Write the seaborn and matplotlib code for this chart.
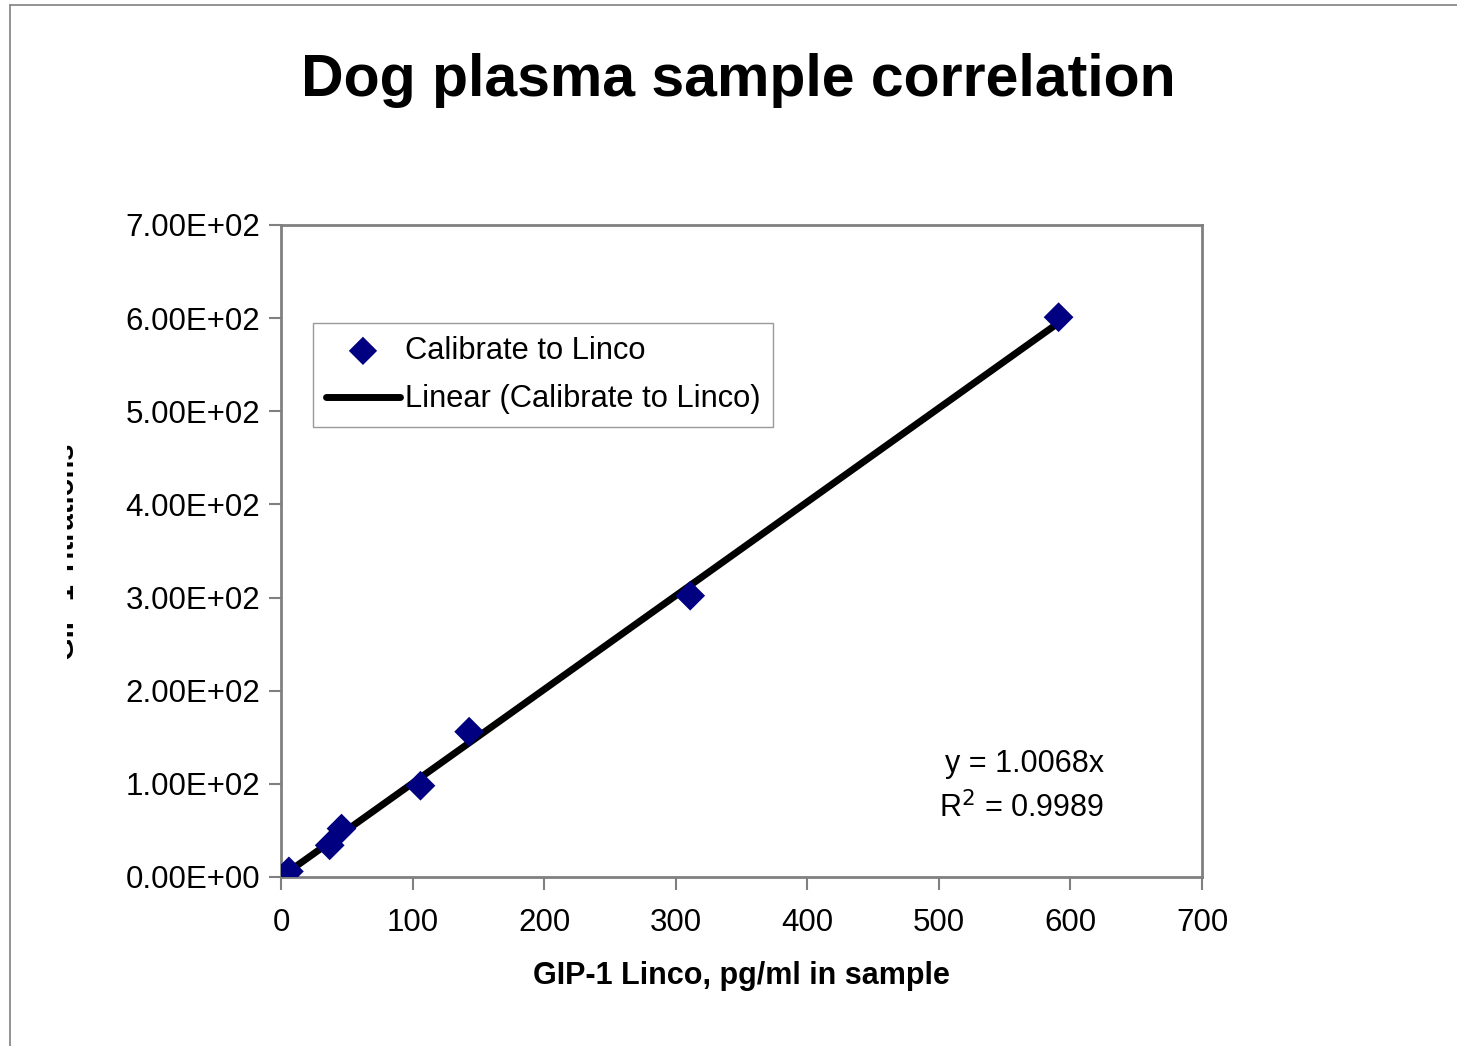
import numpy as np
import pandas as pd
import matplotlib
matplotlib.use("Agg")
import matplotlib.pyplot as plt
import seaborn as sns
from matplotlib.patches import Rectangle
from matplotlib.lines import Line2D
from matplotlib.ticker import FuncFormatter, MultipleLocator

# ---- data ----
linco_x = [6, 37, 46, 106, 143, 311, 591]
other_y = [6, 34, 52, 98, 156, 302, 601]
slope = 1.0068
r2 = 0.9989
title = "Dog plasma sample correlation"
xlabel = "GIP-1 Linco, pg/ml in sample"
ylabel = "GIP-1 Titrations"
series_name = "Calibrate to Linco"
trend_name = "Linear (Calibrate to Linco)"

W, H = 1457, 1046
sns.set_style("white")
plt.rcParams['font.family'] = ['Liberation Sans', 'DejaVu Sans']
plt.rcParams['text.color'] = 'black'
plt.rcParams['axes.labelcolor'] = 'black'
plt.rcParams['xtick.color'] = 'black'
plt.rcParams['ytick.color'] = 'black'

fig = plt.figure(figsize=(W / 100, H / 100), dpi=100)
ax = fig.add_axes([281 / W, 1 - 877 / H, (1202 - 281) / W, (877 - 225) / H])

df = pd.DataFrame({"x": linco_x, "y": other_y})
xs = np.array([min(linco_x), max(linco_x)], dtype=float)
trend = pd.DataFrame({"x": xs, "y": slope * xs})

sns.lineplot(data=trend, x="x", y="y", ax=ax, color="black", linewidth=5,
             label=trend_name, zorder=2)
sns.scatterplot(data=df, x="x", y="y", ax=ax, marker="D", s=230, color="#000080",
                edgecolor="none", label=series_name, zorder=3)

ax.set_xlim(0, 700)
ax.set_ylim(0, 700)
ax.xaxis.set_major_locator(MultipleLocator(100))
ax.yaxis.set_major_locator(MultipleLocator(100))
ax.yaxis.set_major_formatter(FuncFormatter(lambda v, p: f"{v:.2E}"))
ax.tick_params(axis="both", which="major", labelsize=22.5, length=9, width=1.5,
               color="#808080", labelcolor="black", direction="out", left=True, bottom=True)
ax.tick_params(axis="y", pad=6)
ax.tick_params(axis="x", pad=13)
for s in ax.spines.values():
    s.set_color("#808080")
    s.set_linewidth(2)
ax.set_xlabel(xlabel, fontsize=22, fontweight="bold", labelpad=17, color="black")
ax.set_ylabel("")

# legend
handles, labels = ax.get_legend_handles_labels()
order = [labels.index(series_name), labels.index(trend_name)]
leg = ax.legend([handles[i] for i in order], [labels[i] for i in order],
                loc="upper left", bbox_to_anchor=((313 - 281) / 921, (877 - 323) / 652),
                fontsize=22.2, frameon=True, fancybox=False, borderaxespad=0,
                handlelength=2.4, handletextpad=0.15, borderpad=0.42, labelspacing=0.6,
                markerscale=0.95)
leg.get_frame().set_edgecolor("#808080")
leg.get_frame().set_linewidth(1)
for txt in leg.get_texts():
    txt.set_color("black")

# regression text
fig.text(1104 / W, 1 - 764 / H, f"y = {slope:.4f}x", fontsize=22, ha="right", va="center",
         color="black")
fig.text(1104 / W, 1 - 808 / H, f"R$^2$ = {r2:.4f}", fontsize=22, ha="right", va="center",
         color="black")

# title
fig.text(738 / W, 1 - 80 / H, title, fontsize=42.5, fontweight="bold", ha="center",
         va="center", color="black")

# clipped y label (only the bottom edge of the letters is visible)
t = fig.text(74 / W, 1 - 552 / H, ylabel, fontsize=21, fontweight="bold", rotation=90,
             rotation_mode="anchor", ha="center", va="baseline", color="black")
clip = Rectangle((67 / W, 0), 8 / W, 1, transform=fig.transFigure)
t.set_clip_path(clip)
t.set_clip_on(True)

# outer frame
fig.add_artist(Line2D([10 / W, 1], [1 - 5 / H, 1 - 5 / H], transform=fig.transFigure,
                      color="#808080", linewidth=1.2))
fig.add_artist(Line2D([10 / W, 10 / W], [0, 1 - 5 / H], transform=fig.transFigure,
                      color="#808080", linewidth=1.2))

fig.savefig("out.png", dpi=100)
